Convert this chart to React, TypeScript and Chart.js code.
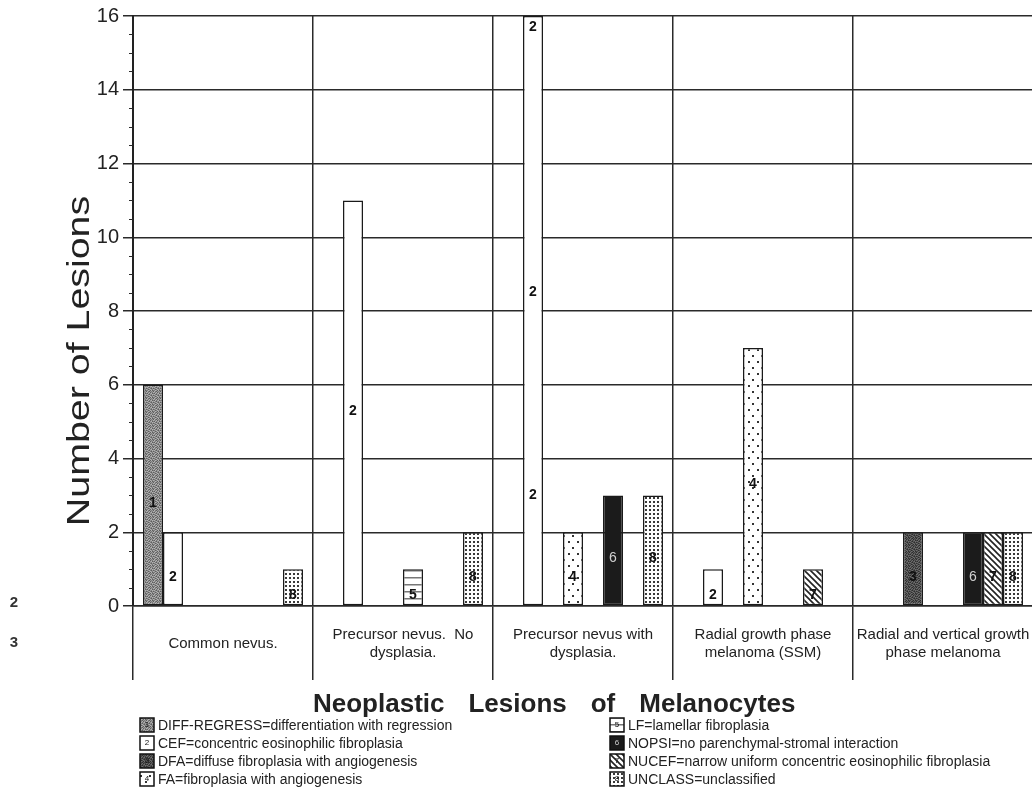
import React, { useEffect, useRef } from "react";
import { Chart, registerables } from "chart.js";

Chart.register(...registerables);

// ---------------- data ----------------
const categories: (string | string[])[] = [
  "Common nevus.",
  ["Precursor nevus.  No", "dysplasia."],
  ["Precursor nevus with", "dysplasia."],
  ["Radial growth phase", "melanoma (SSM)"],
  ["Radial and vertical growth", "phase melanoma"],
];

const seriesNames = [
  "DIFF-REGRESS=differentiation with regression",
  "CEF=concentric eosinophilic fibroplasia",
  "DFA=diffuse fibroplasia with angiogenesis",
  "FA=fibroplasia with angiogenesis",
  "LF=lamellar fibroplasia",
  "NOPSI=no parenchymal-stromal interaction",
  "NUCEF=narrow uniform concentric eosinophilic fibroplasia",
  "UNCLASS=unclassified",
];
const seriesCodes = ["1", "2", "3", "4", "5", "6", "7", "8"];

const diffRegress = [6, null, null, null, null];
const cef = [2, 11, 16, 1, null];
const dfa = [null, null, null, null, 2];
const fa = [null, null, 2, 7, null];
const lf = [null, 1, null, null, null];
const nopsi = [null, null, 3, null, 2];
const nucef = [null, null, null, 1, 2];
const unclass = [1, 2, 3, null, 2];

const yMin = 0;
const yMax = 16;
const yStep = 2;
const yMinorStep = 0.5;

// where the code label is repeated on a bar that runs off the top of the scale
const clippedBarLabelValues = [3, 8.5, 15.7];

const chartTitleWords = ["Neoplastic", "Lesions", "of", "Melanocytes"];
const yAxisTitle = "Number of Lesions";
const marginNotes = ["2", "3"];

// ---------------- styles ----------------
const FONT = "'Liberation Sans', Arial, Helvetica, sans-serif";
const INK = "#222";
const LINE = "#2a2a2a";

function makePattern(kind: string): CanvasPattern | string {
  const c = document.createElement("canvas");
  const g = c.getContext("2d")!;
  const mottle = [
    [2, 1, 3, 0, 2, 1, 3],
    [0, 3, 1, 2, 3, 0, 1],
    [3, 1, 0, 2, 1, 3, 2],
    [1, 2, 3, 1, 0, 2, 0],
    [2, 0, 1, 3, 2, 1, 3],
    [1, 3, 2, 0, 3, 0, 1],
    [3, 1, 0, 2, 1, 2, 0],
  ];
  if (kind === "mottleLight" || kind === "mottleDark") {
    const pal =
      kind === "mottleLight"
        ? ["#5e5e5e", "#7c7c7c", "#989898", "#b2b2b2"]
        : ["#2e2e2e", "#444", "#595959", "#6e6e6e"];
    c.width = 7;
    c.height = 7;
    for (let r = 0; r < 7; r++)
      for (let k = 0; k < 7; k++) {
        g.fillStyle = pal[mottle[r][k]];
        g.fillRect(k, r, 1, 1);
      }
  } else if (kind === "sparseDots") {
    c.width = 9;
    c.height = 12;
    g.fillStyle = "#fff";
    g.fillRect(0, 0, 9, 12);
    g.fillStyle = "#333";
    g.fillRect(1, 1, 2, 2);
    g.fillRect(5, 7, 2, 2);
  } else if (kind === "hLines") {
    c.width = 4;
    c.height = 7;
    g.fillStyle = "#fff";
    g.fillRect(0, 0, 4, 7);
    g.fillStyle = "#777";
    g.fillRect(0, 3, 4, 1.5);
  } else if (kind === "hatch") {
    c.width = 6;
    c.height = 6;
    g.fillStyle = "#fff";
    g.fillRect(0, 0, 6, 6);
    g.strokeStyle = "#222";
    g.lineWidth = 1.6;
    g.beginPath();
    g.moveTo(-1, -1);
    g.lineTo(7, 7);
    g.moveTo(-1, 5);
    g.lineTo(1, 7);
    g.moveTo(5, -1);
    g.lineTo(7, 1);
    g.stroke();
  } else if (kind === "denseDots") {
    c.width = 4;
    c.height = 4;
    g.fillStyle = "#fff";
    g.fillRect(0, 0, 4, 4);
    g.fillStyle = "#3a3a3a";
    g.fillRect(1, 1, 2, 2);
  } else if (kind === "black") {
    return "#1b1b1b";
  } else {
    return "#ffffff";
  }
  return g.createPattern(c, "repeat")!;
}

const patternKinds = [
  "mottleLight",
  "white",
  "mottleDark",
  "sparseDots",
  "hLines",
  "black",
  "hatch",
  "denseDots",
];
const codeColors = ["#111", "#111", "#111", "#111", "#111", "#cfcfcf", "#111", "#111"];

const extrasPlugin = {
  id: "extras",
  afterDatasetsDraw(chart: any) {
    const ctx: CanvasRenderingContext2D = chart.ctx;
    const ys = chart.scales.y;
    ctx.save();
    chart.data.datasets.forEach((ds: any, di: number) => {
      const meta = chart.getDatasetMeta(di);
      meta.data.forEach((bar: any, i: number) => {
        const v = ds.data[i];
        if (v == null) return;
        const { x, y, base } = bar.getProps(["x", "y", "base"], true);
        const ypos =
          v >= ys.max
            ? clippedBarLabelValues.map((val) => ys.getPixelForValue(val))
            : [(y + base) / 2 + 8];
        ctx.font = (di === 5 ? "" : "bold ") + "14px " + FONT;
        ctx.fillStyle = codeColors[di];
        ctx.textAlign = "center";
        ctx.textBaseline = "middle";
        ypos.forEach((yy) => ctx.fillText(seriesCodes[di], x, yy));
      });
    });
    ctx.restore();
  },
  afterDraw(chart: any) {
    const ctx: CanvasRenderingContext2D = chart.ctx;
    const ys = chart.scales.y;
    const left = chart.chartArea.left;
    ctx.save();
    // minor ticks on the y axis
    ctx.strokeStyle = LINE;
    ctx.lineWidth = 1;
    for (let v = yMin; v <= yMax; v += yMinorStep) {
      if (v % yStep === 0) continue;
      const p = Math.round(ys.getPixelForValue(v)) + 0.5;
      ctx.beginPath();
      ctx.moveTo(left - 4, p);
      ctx.lineTo(left, p);
      ctx.stroke();
    }
    // y-axis title
    ctx.save();
    ctx.translate(80, 361);
    ctx.rotate(-Math.PI / 2);
    ctx.scale(1.23, 1);
    ctx.font = "32px " + FONT;
    ctx.fillStyle = INK;
    ctx.textAlign = "center";
    ctx.textBaseline = "middle";
    ctx.fillText(yAxisTitle, 0, 0);
    ctx.restore();

    // chart title (bottom)
    ctx.font = "bold 26px " + FONT;
    ctx.fillStyle = INK;
    ctx.textAlign = "left";
    ctx.textBaseline = "alphabetic";
    let tx = 313;
    chartTitleWords.forEach((w) => {
      ctx.fillText(w, tx, 712);
      tx += ctx.measureText(w).width + 24;
    });

    // legend, two columns
    const colX = [140, 610];
    const rowY = [725, 743, 761, 779];
    chart.data.datasets.forEach((ds: any, i: number) => {
      const col = Math.floor(i / 4);
      const row = i % 4;
      const ix = colX[col];
      const iy = rowY[row];
      ctx.fillStyle = ds.backgroundColor;
      ctx.fillRect(ix, iy - 7, 14, 14);
      ctx.strokeStyle = "#111";
      ctx.lineWidth = 1.5;
      ctx.strokeRect(ix, iy - 7, 14, 14);
      ctx.font = "8px " + FONT;
      ctx.fillStyle = codeColors[i];
      ctx.textAlign = "center";
      ctx.textBaseline = "middle";
      ctx.fillText(seriesCodes[i], ix + 7, iy);
      ctx.font = "14px " + FONT;
      ctx.fillStyle = INK;
      ctx.textAlign = "left";
      ctx.fillText(ds.label, ix + 18, iy + 1);
    });

    // stray margin numbers
    ctx.font = "bold 15px " + FONT;
    ctx.fillStyle = "#333";
    ctx.textAlign = "center";
    ctx.textBaseline = "middle";
    ctx.fillText(marginNotes[0], 14, 603);
    ctx.fillText(marginNotes[1], 14, 643);
    ctx.restore();
  },
};

export default function App() {
  const ref = useRef<HTMLCanvasElement | null>(null);
  useEffect(() => {
    if (!ref.current) return;
    const values = [diffRegress, cef, dfa, fa, lf, nopsi, nucef, unclass];
    const datasets = values.map((vals, i) => ({
      label: seriesNames[i],
      data: vals,
      backgroundColor: makePattern(patternKinds[i]) as any,
      borderColor: "#1a1a1a",
      borderWidth: 1.5,
      borderSkipped: false as any,
      categoryPercentage: 160 / 180,
      barPercentage: 1,
    }));
    const chart = new Chart(ref.current, {
      type: "bar",
      data: { labels: categories as any, datasets },
      options: {
        responsive: false,
        animation: false,
        layout: { padding: { top: 16, left: 0, right: 7, bottom: 106 } },
        plugins: {
          legend: { display: false },
          tooltip: { enabled: false },
          title: { display: false },
        },
        scales: {
          x: {
            grid: {
              offset: true,
              color: LINE,
              lineWidth: 1.5,
              tickLength: 74,
              tickColor: LINE,
              tickWidth: 1.5,
            },
            border: { display: true, color: LINE, width: 1.5 },
            ticks: {
              color: INK,
              font: { family: FONT, size: 15 },
              padding: -45,
              maxRotation: 0,
              minRotation: 0,
              autoSkip: false,
              crossAlign: "center",
            },
            afterFit: (s: any) => {
              s.height = 80;
              s.paddingLeft = 0;
              s.paddingRight = 0;
            },
          },
          y: {
            min: yMin,
            max: yMax,
            ticks: {
              stepSize: yStep,
              color: INK,
              font: { family: FONT, size: 20 },
              padding: 4,
            },
            grid: { color: LINE, lineWidth: 1.5, tickLength: 10, tickColor: LINE },
            border: { display: true, color: INK, width: 2 },
            afterFit: (s: any) => {
              s.width = 133;
            },
          },
        },
      },
      plugins: [extrasPlugin],
    });
    return () => chart.destroy();
  }, []);
  return (
    <div
      style={{
        position: "fixed",
        left: 0,
        top: 0,
        width: 1032,
        height: 792,
        overflow: "hidden",
        background: "#fff",
      }}
    >
      <canvas ref={ref} width={1040} height={792} style={{ display: "block" }} />
    </div>
  );
}
